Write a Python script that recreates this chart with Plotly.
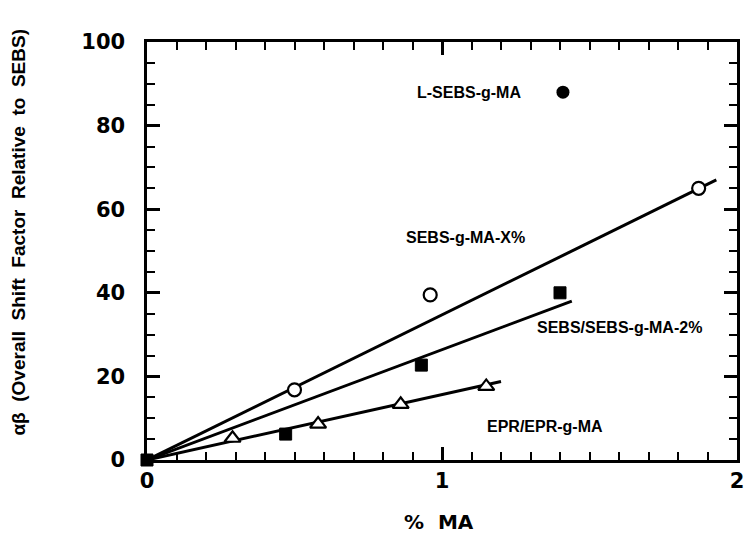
import plotly.graph_objects as go

# ---- data ----
circ_x = [0.50, 0.96, 1.87]          # SEBS-g-MA-X%
circ_y = [16.8, 39.5, 65.0]
sq_x = [0.0, 0.47, 0.93, 1.40]       # SEBS/SEBS-g-MA-2%
sq_y = [0.0, 6.2, 22.7, 40.0]
tri_x = [0.29, 0.58, 0.86, 1.15]     # EPR/EPR-g-MA
tri_y = [5.2, 8.6, 13.3, 17.6]
lsebs_x = [1.41]                     # L-SEBS-g-MA
lsebs_y = [88.0]

fitX_x, fitX_y = [0.0, 1.93], [0.0, 67.0]
fit2_x, fit2_y = [0.0, 1.44], [0.0, 38.0]
fitE_x, fitE_y = [0.0, 1.20], [0.0, 18.8]

labels = ["L-SEBS-g-MA", "SEBS-g-MA-X%", "SEBS/SEBS-g-MA-2%", "EPR/EPR-g-MA"]
label_x = [1.09, 1.08, 1.60, 1.35]
label_y = [88.0, 53.3, 31.6, 8.1]

x_range = [0, 2]
y_range = [0, 100]

fig = go.Figure()
line_style = dict(color="black", width=3)
for fx, fy in [(fitX_x, fitX_y), (fit2_x, fit2_y), (fitE_x, fitE_y)]:
    fig.add_trace(go.Scatter(x=fx, y=fy, mode="lines", line=line_style,
                             showlegend=False, hoverinfo="skip"))

fig.add_trace(go.Scatter(x=circ_x, y=circ_y, mode="markers",
                         marker=dict(symbol="circle", size=13, color="white",
                                     line=dict(color="black", width=2.2)),
                         showlegend=False))
fig.add_trace(go.Scatter(x=tri_x, y=tri_y, mode="markers",
                         marker=dict(symbol="triangle-up", size=14, color="white",
                                     line=dict(color="black", width=2.2)),
                         showlegend=False))
fig.add_trace(go.Scatter(x=sq_x, y=sq_y, mode="markers", cliponaxis=False,
                         marker=dict(symbol="square", size=12, color="black",
                                     line=dict(color="black", width=1)),
                         showlegend=False))
fig.add_trace(go.Scatter(x=lsebs_x, y=lsebs_y, mode="markers",
                         marker=dict(symbol="circle", size=13, color="black"),
                         showlegend=False))

for t, lx, ly in zip(labels, label_x, label_y):
    fig.add_annotation(x=lx, y=ly, xref="x", yref="y", text=t, showarrow=False,
                       font=dict(family="Liberation Sans", size=16, color="black", weight="bold"),
                       xanchor="center", yanchor="middle")

# axis titles
fig.add_annotation(x=-0.218, y=0.545, xref="paper", yref="paper",
                   text="αβ\u00a0 (Overall\u00a0 Shift\u00a0 Factor\u00a0 Relative\u00a0 to\u00a0 SEBS)",
                   textangle=-90, showarrow=False, xanchor="center", yanchor="middle",
                   font=dict(family="Liberation Sans", size=19, color="black", weight="bold"))
fig.add_annotation(x=0.495, y=-0.148, xref="paper", yref="paper",
                   text="%\u00a0 MA", showarrow=False, xanchor="center", yanchor="middle",
                   font=dict(family="DejaVu Sans", size=20, color="black", weight="bold"))

axis_common = dict(showgrid=False, zeroline=False, showline=True, linecolor="black",
                   linewidth=3, mirror="allticks", ticks="inside", tickcolor="black",
                   tickwidth=2.5, ticklen=13, tickmode="linear", tick0=0,
                   tickfont=dict(family="DejaVu Sans", size=21, color="black", weight="bold"))

fig.update_xaxes(range=x_range, dtick=1,
                 minor=dict(dtick=0.1, tick0=0, ticks="inside", ticklen=8,
                            tickwidth=2.2, tickcolor="black"),
                 **axis_common)
fig.update_yaxes(range=y_range, dtick=20,
                 minor=dict(dtick=5, tick0=0, ticks="inside", ticklen=8,
                            tickwidth=2.2, tickcolor="black"),
                 ticksuffix="\u00a0\u00a0", **axis_common)

fig.update_layout(width=750, height=535, margin=dict(l=147, r=6, t=42, b=75),
                  plot_bgcolor="white", paper_bgcolor="white", showlegend=False)

fig.write_html("out.html")
